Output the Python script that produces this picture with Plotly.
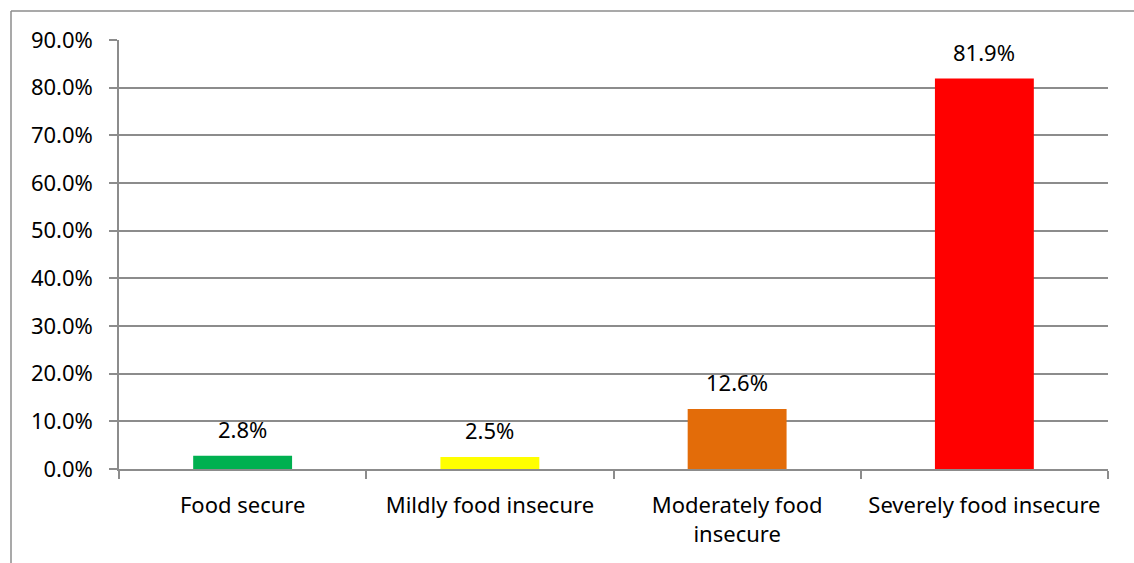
import plotly.graph_objects as go

categories = ["Food secure", "Mildly food insecure", "Moderately food<br>insecure", "Severely food insecure"]
values = [2.8, 2.5, 12.6, 81.9]
colors = ["#00B050", "#FFFF00", "#E36C09", "#FF0000"]
ytick_vals = [0, 10, 20, 30, 40, 50, 60, 70, 80, 90]
ytick_text = [f"{v:.1f}%" for v in ytick_vals]

W, H = 1134, 563
ml, mr, mt, mb = 119, 26, 40, 94
pw, ph = W - ml - mr, H - mt - mb
FS = 22

fig = go.Figure(go.Bar(
    x=categories, y=values, marker_color=colors, marker_line_width=0,
    width=0.4, cliponaxis=False,
))

for c, v in zip(categories, values):
    fig.add_annotation(x=c, y=v, text=f"{v:.1f}%", showarrow=False,
                       yanchor="middle", yshift=27, font=dict(size=FS, color="#000000"))

def px2x(p):
    return (p - ml) / pw

def py2y(p):
    return 1 - (p - mt) / ph

gray = "#8C8C8C"
fig.update_layout(
    width=W, height=H, margin=dict(l=ml, r=mr, t=mt, b=mb),
    paper_bgcolor="white", plot_bgcolor="white",
    font=dict(family="Noto Sans, Open Sans, sans-serif", size=FS, color="#000000"),
    showlegend=False,
    shapes=[
        dict(type="line", xref="paper", yref="paper", x0=px2x(11), x1=px2x(1140), y0=py2y(11), y1=py2y(11),
             line=dict(color=gray, width=1.5)),
        dict(type="line", xref="paper", yref="paper", x0=px2x(11), x1=px2x(11), y0=py2y(11), y1=py2y(570),
             line=dict(color=gray, width=1.5)),
    ],
)
fig.update_yaxes(range=[0, 90], tickvals=ytick_vals, ticktext=ytick_text,
                 showgrid=True, gridcolor=gray, gridwidth=1.5,
                 showline=True, linecolor=gray, linewidth=1.5,
                 ticks="outside", ticklen=8, tickcolor=gray, tickwidth=1.5,
                 zeroline=False, tickfont=dict(size=FS), ticklabelstandoff=12)
fig.update_xaxes(showline=True, linecolor=gray, linewidth=1.5,
                 ticks="outside", ticklen=8, tickcolor=gray, tickwidth=1.5,
                 tickson="boundaries", showgrid=False, tickfont=dict(size=FS),
                 ticklabelstandoff=16)

fig.write_html("out.html")
